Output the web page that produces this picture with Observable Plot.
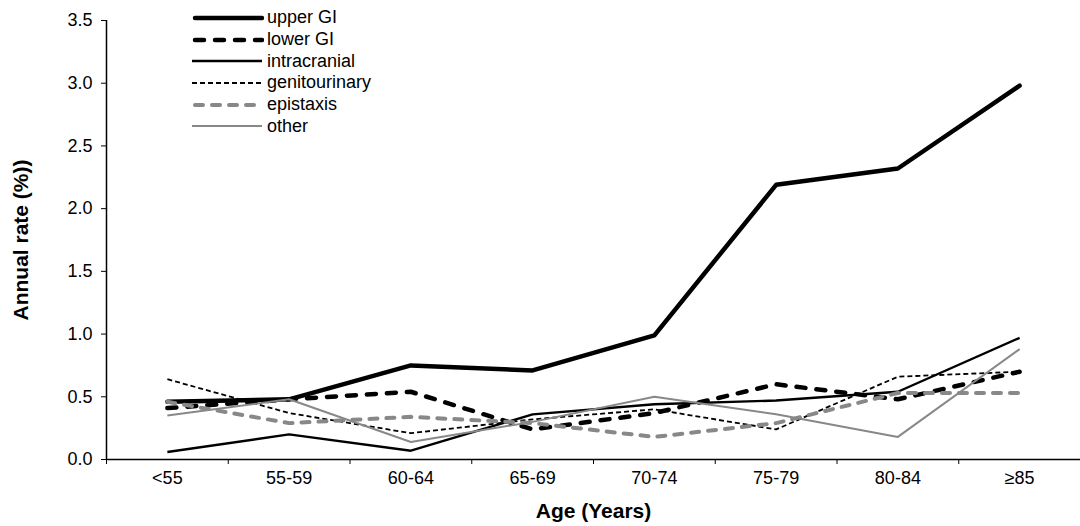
<!DOCTYPE html>
<html lang="en">
  <head>
    <meta charset="UTF-8" />
    <title>Annual bleeding rate by age</title>
    <style>
      body { margin: 0; background: #fff; font-family: "Liberation Sans", Arial, sans-serif; }
      #chart { position: relative; width: 1080px; height: 526px; }
      #legend { position: absolute; left: 192px; top: 7px; font-size: 18px; color: #000; }
      #legend .row { display: flex; align-items: center; height: 21.7px; }
      #legend svg { width: 72px; height: 12px; margin-right: 3px; }
    </style>
  </head>
  <body>
    <div id="chart"><div id="legend"></div></div>

    <script src="https://cdn.jsdelivr.net/npm/d3@7"></script>
    <script src="https://cdn.jsdelivr.net/npm/@observablehq/plot@0.6"></script>

    <script>
      const ages = ["<55", "55-59", "60-64", "65-69", "70-74", "75-79", "80-84", "≥85"];
      const yTicks = [0, 0.5, 1, 1.5, 2, 2.5, 3, 3.5];

      const upperGI = [0.46, 0.48, 0.75, 0.71, 0.99, 2.19, 2.32, 2.98];
      const lowerGI = [0.41, 0.48, 0.54, 0.24, 0.37, 0.6, 0.48, 0.7];
      const intracranial = [0.06, 0.2, 0.07, 0.36, 0.44, 0.47, 0.54, 0.97];
      const genitourinary = [0.64, 0.37, 0.21, 0.32, 0.4, 0.24, 0.66, 0.7];
      const epistaxis = [0.46, 0.29, 0.34, 0.29, 0.18, 0.29, 0.53, 0.53];
      const other = [0.35, 0.48, 0.14, 0.3, 0.5, 0.36, 0.18, 0.88];

      // series in drawing order, with the Excel-like line styles
      const series = [
        { name: "upper GI", values: upperGI, color: "#000", width: 4.5, dash: null, cap: "round" },
        { name: "lower GI", values: lowerGI, color: "#000", width: 4.5, dash: "9,11", cap: "round" },
        { name: "intracranial", values: intracranial, color: "#000", width: 2.4, dash: null, cap: "butt" },
        { name: "genitourinary", values: genitourinary, color: "#000", width: 1.8, dash: "5,3", cap: "butt" },
        { name: "epistaxis", values: epistaxis, color: "#888", width: 4, dash: "8,9", cap: "round" },
        { name: "other", values: other, color: "#888", width: 2, dash: null, cap: "butt" }
      ];

      const lines = series.map((s) =>
        Plot.line(
          s.values.map((v, i) => ({ i, v })),
          {
            x: "i",
            y: "v",
            stroke: s.color,
            strokeWidth: s.width,
            strokeDasharray: s.dash,
            strokeLinecap: s.cap,
            strokeLinejoin: "round"
          }
        )
      );

      const plot = Plot.plot({
        width: 1080,
        height: 526,
        marginLeft: 106,
        marginRight: 0,
        marginTop: 20,
        marginBottom: 67,
        style: { fontFamily: "Liberation Sans, Arial, sans-serif", fontSize: "18px", color: "#000" },
        x: { type: "linear", domain: [-0.5, ages.length - 0.5] },
        y: { domain: [0, 3.5] },
        marks: [
          ...lines,
          Plot.axisY({ ticks: yTicks, tickFormat: d3.format(".1f"), tickSize: 5, tickPadding: 9, fontSize: 18, label: null }),
          Plot.axisX(d3.range(ages.length + 1).map((k) => k - 0.5), { tickSize: 5, tickFormat: () => "", label: null }),
          Plot.axisX(d3.range(ages.length), { tickSize: 0, tickPadding: 12, fontSize: 18, tickFormat: (i) => ages[i], label: null }),
          Plot.ruleX([-0.5], { stroke: "#000", strokeWidth: 1.5 }),
          Plot.ruleY([0], { stroke: "#000", strokeWidth: 1.5 }),
          Plot.text(["Annual rate (%))"], {
            frameAnchor: "left", textAnchor: "middle", lineAnchor: "middle",
            dx: -85, rotate: -90, fontWeight: "bold", fontSize: 21
          }),
          Plot.text(["Age (Years)"], {
            frameAnchor: "bottom", textAnchor: "middle", lineAnchor: "middle",
            dy: 52, fontWeight: "bold", fontSize: 21
          })
        ]
      });

      document.querySelector("#chart").prepend(plot);

      // legend drawn as plain html over the plot area
      const legend = d3.select("#legend");
      for (const s of series) {
        const row = legend.append("div").attr("class", "row");
        row.append("svg")
          .append("line")
          .attr("x1", s.cap === "round" ? 3 : 0).attr("x2", 70).attr("y1", 6).attr("y2", 6)
          .attr("stroke", s.color)
          .attr("stroke-width", s.width)
          .attr("stroke-dasharray", s.dash)
          .attr("stroke-linecap", s.cap);
        row.append("span").text(s.name);
      }
    </script>
  </body>
</html>
